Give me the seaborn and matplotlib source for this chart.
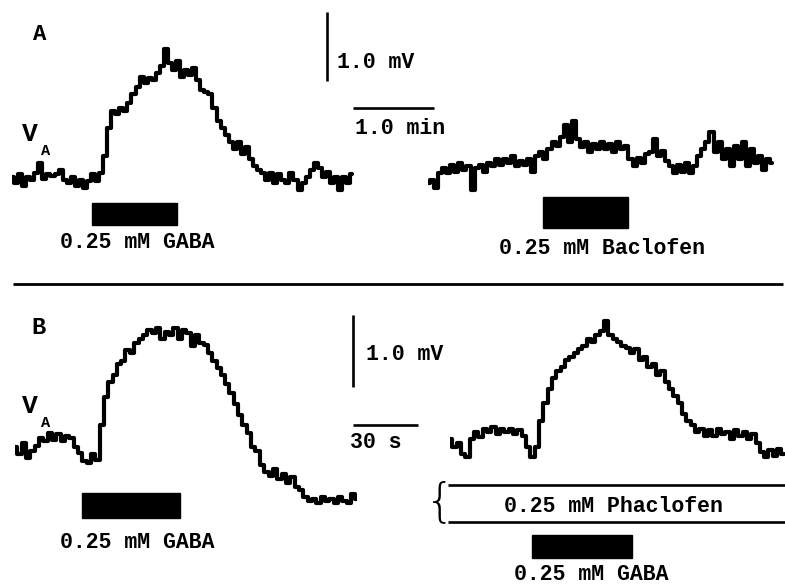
import numpy as np
import pandas as pd
import matplotlib
matplotlib.use("Agg")
import matplotlib.pyplot as plt
import matplotlib.transforms as mtransforms
from matplotlib.patches import Rectangle
import seaborn as sns

W, H = 785, 587
sns.set_theme(style="white")
plt.rcParams['font.family'] = ['Liberation Mono', 'DejaVu Sans']

# ---------------- data (mV relative to resting level, sampled every dt seconds) -------------
dt_A = 3.0
a1_gaba_mv = [0.05, -0.05, 0.08, -0.08, 0.05, 0.0, 0.1, 0.25, 0.02, 0.08, 0.06, 0.08, 0.14, 0.0,
              -0.05, 0.05, -0.08, 0.0, -0.12, -0.02, 0.08, -0.02, 0.1, 0.35, 0.75, 1.0, 0.95, 1.05,
              1.0, 1.12, 1.25, 1.35, 1.5, 1.4, 1.48, 1.45, 1.55, 1.65, 1.9, 1.7, 1.6, 1.72, 1.5, 1.6,
              1.52, 1.62, 1.45, 1.3, 1.28, 1.25, 1.05, 0.85, 0.75, 0.65, 0.55, 0.45, 0.55, 0.38, 0.48,
              0.3, 0.2, 0.15, 0.1, 0.0, 0.1, -0.05, 0.08, 0.0, -0.05, 0.1, 0.0, -0.15, -0.05, 0.05,
              0.15, 0.25, 0.18, 0.05, 0.12, -0.05, 0.05, -0.15, 0.05, -0.05, 0.08]
a2_baclofen_mv = [-0.05, 0.0, -0.12, 0.1, 0.18, 0.1, 0.22, 0.12, 0.25, 0.15, 0.2, -0.15, 0.18, 0.22,
                  0.12, 0.25, 0.2, 0.3, 0.22, 0.3, 0.25, 0.35, 0.2, 0.28, 0.22, 0.3, 0.12, 0.35, 0.4,
                  0.3, 0.45, 0.55, 0.5, 0.62, 0.8, 0.55, 0.85, 0.6, 0.48, 0.55, 0.4, 0.52, 0.45, 0.55,
                  0.45, 0.52, 0.4, 0.55, 0.45, 0.5, 0.3, 0.2, 0.32, 0.25, 0.38, 0.4, 0.6, 0.35, 0.42,
                  0.28, 0.2, 0.1, 0.22, 0.12, 0.25, 0.1, 0.2, 0.35, 0.45, 0.55, 0.7, 0.4, 0.55, 0.3,
                  0.45, 0.2, 0.5, 0.3, 0.55, 0.2, 0.45, 0.25, 0.35, 0.15, 0.3, 0.25]
dt_B = 2.0
b1_gaba_mv = [0.0, -0.1, 0.05, -0.15, -0.05, 0.02, 0.12, 0.08, 0.2, 0.1, 0.18, 0.08, 0.15, 0.12, 0.0,
              -0.08, -0.2, -0.22, -0.1, -0.18, 0.3, 0.7, 0.9, 1.0, 1.15, 1.2, 1.35, 1.3, 1.45, 1.5,
              1.55, 1.62, 1.58, 1.65, 1.5, 1.6, 1.55, 1.65, 1.5, 1.62, 1.58, 1.4, 1.55, 1.45, 1.42,
              1.3, 1.2, 1.1, 1.0, 0.88, 0.75, 0.6, 0.45, 0.3, 0.2, 0.0, -0.05, -0.25, -0.35, -0.4,
              -0.3, -0.45, -0.38, -0.5, -0.42, -0.55, -0.6, -0.7, -0.75, -0.72, -0.78, -0.7, -0.75,
              -0.72, -0.78, -0.7, -0.75, -0.78, -0.65, -0.72]
b2_phaclofen_mv = [0.05, -0.05, 0.0, -0.15, -0.2, 0.05, 0.15, 0.08, 0.2, 0.15, 0.22, 0.12, 0.2, 0.15,
                   0.2, 0.12, 0.18, 0.1, -0.05, -0.2, -0.05, 0.3, 0.55, 0.75, 0.9, 1.0, 1.05, 1.15,
                   1.2, 1.25, 1.3, 1.35, 1.45, 1.4, 1.5, 1.55, 1.7, 1.5, 1.45, 1.4, 1.35, 1.32, 1.25,
                   1.3, 1.15, 1.2, 1.05, 1.1, 0.95, 1.0, 0.85, 0.75, 0.65, 0.55, 0.4, 0.3, 0.25, 0.15,
                   0.2, 0.1, 0.18, 0.1, 0.2, 0.12, 0.15, 0.05, 0.18, 0.1, 0.15, 0.05, 0.12, 0.0, -0.12,
                   -0.2, -0.1, -0.18, -0.08, -0.15]

# drug application windows (s, trace time)
a1_gaba_on = [59, 122]
a2_baclofen_on = [85, 148]
b1_gaba_on = [31, 76]
b2_gaba_on = [38, 84]
b2_phaclofen_on = [-0.9, 155]

scale_mv = 1.0
scale_A_s = 60.0
scale_B_s = 30.0

labels = {
    "gaba": "0.25 mM GABA",
    "baclofen": "0.25 mM Baclofen",
    "phaclofen": "0.25 mM Phaclofen",
}

# ---------------- figure ----------------
fig = plt.figure(figsize=(W / 100, H / 100), dpi=100)
fig.patch.set_facecolor("white")
over = fig.add_axes([0, 0, 1, 1])
over.set_xlim(0, W)
over.set_ylim(H, 0)
over.axis("off")
over.patch.set_alpha(0)

FS = 15.5
TXT = dict(color="black", fontweight="bold", fontsize=FS)


def trace_axes(x0, y0, pxs, pxmv, tmax, vmin, vmax):
    left, right = x0, x0 + tmax * pxs
    top, bot = y0 - vmax * pxmv, y0 - vmin * pxmv
    ax = fig.add_axes([left / W, 1 - bot / H, (right - left) / W, (bot - top) / H])
    ax.set_xlim(0, tmax)
    ax.set_ylim(vmin, vmax)
    ax.axis("off")
    ax.patch.set_alpha(0)
    return ax


def draw_trace(ax, vals, dt):
    df = pd.DataFrame({"t": np.arange(len(vals)) * dt, "v": vals})
    sns.lineplot(data=df, x="t", y="v", ax=ax, color="black", linewidth=3.0,
                 drawstyle="steps-mid", estimator=None, sort=False, legend=False)


def drug_bar(ax, window, ytop, ybot):
    trans = mtransforms.blended_transform_factory(ax.transData, over.transData)
    ax.add_patch(Rectangle((window[0], ytop), window[1] - window[0], ybot - ytop,
                           transform=trans, facecolor="black", edgecolor="black",
                           clip_on=False))


pxA_s, pxA_mv = 81 / 60, 69
pxB_s, pxB_mv = 65 / 30, 72

axA1 = trace_axes(12, 180, pxA_s, pxA_mv, 254, -0.5, 2.0)
axA2 = trace_axes(428, 180, pxA_s, pxA_mv, 257, -0.5, 2.0)
axB1 = trace_axes(15, 447, pxB_s, pxB_mv, 158, -1.0, 2.0)
axB2 = trace_axes(450, 443, pxB_s, pxB_mv, 155, -1.0, 2.0)

draw_trace(axA1, a1_gaba_mv, dt_A)
draw_trace(axA2, a2_baclofen_mv, dt_A)
draw_trace(axB1, b1_gaba_mv, dt_B)
draw_trace(axB2, b2_phaclofen_mv, dt_B)

drug_bar(axA1, a1_gaba_on, 203, 225)
drug_bar(axA2, a2_baclofen_on, 197, 228)
drug_bar(axB1, b1_gaba_on, 493, 518)
drug_bar(axB2, b2_gaba_on, 535, 558)

# phaclofen bath application lines
transP = mtransforms.blended_transform_factory(axB2.transData, over.transData)
for yy in (485, 522):
    axB2.plot(b2_phaclofen_on, [yy, yy], transform=transP, color="black", lw=1.9,
              clip_on=False, solid_capstyle="butt")
over.text(440, 502, "{", fontsize=34, family="DejaVu Sans", fontweight="light",
          ha="center", va="center", color="black")

# scale bars (drawn in trace data units)
axA1.plot([233.3, 233.3], [2.43, 2.43 - scale_mv], color="black", lw=1.9, clip_on=False,
          solid_capstyle="butt")
axA1.plot([252.6, 252.6 + scale_A_s], [1.04, 1.04], color="black", lw=1.9, clip_on=False,
          solid_capstyle="butt")
axB1.plot([156.0, 156.0], [1.83, 1.83 - scale_mv], color="black", lw=1.9, clip_on=False,
          solid_capstyle="butt")
axB1.plot([156.0, 156.0 + scale_B_s], [0.31, 0.31], color="black", lw=1.9, clip_on=False,
          solid_capstyle="butt")

# texts
over.text(337, 62, "1.0 mV", ha="left", va="center", **TXT)
over.text(355, 128, "1.0 min", ha="left", va="center", **TXT)
over.text(366, 354, "1.0 mV", ha="left", va="center", **TXT)
over.text(350, 443, "30 s", ha="left", va="center", **TXT)

over.text(40, 35, "A", ha="center", va="center", fontsize=16, fontweight="bold", color="black")
over.text(38, 328, "B", ha="center", va="center", fontsize=17, fontweight="bold", color="black")
for yv in (134, 406):
    over.text(30, yv, "V", ha="center", va="center", fontsize=19, fontweight="bold", color="black")
    over.text(46, yv + 17, "A", ha="center", va="center", fontsize=11, fontweight="bold",
              color="black")

over.text(137, 242, labels["gaba"], ha="center", va="center", **TXT)
over.text(602, 249, labels["baclofen"], ha="center", va="center", **TXT)
over.text(137, 542, labels["gaba"], ha="center", va="center", **TXT)
over.text(613, 506, labels["phaclofen"], ha="center", va="center", **TXT)
over.text(591, 575, labels["gaba"], ha="center", va="center", **TXT)

# panel separator
over.plot([13, 783], [284, 284], color="black", lw=2.0, solid_capstyle="butt")

fig.savefig("out.png", dpi=100, facecolor="white")
